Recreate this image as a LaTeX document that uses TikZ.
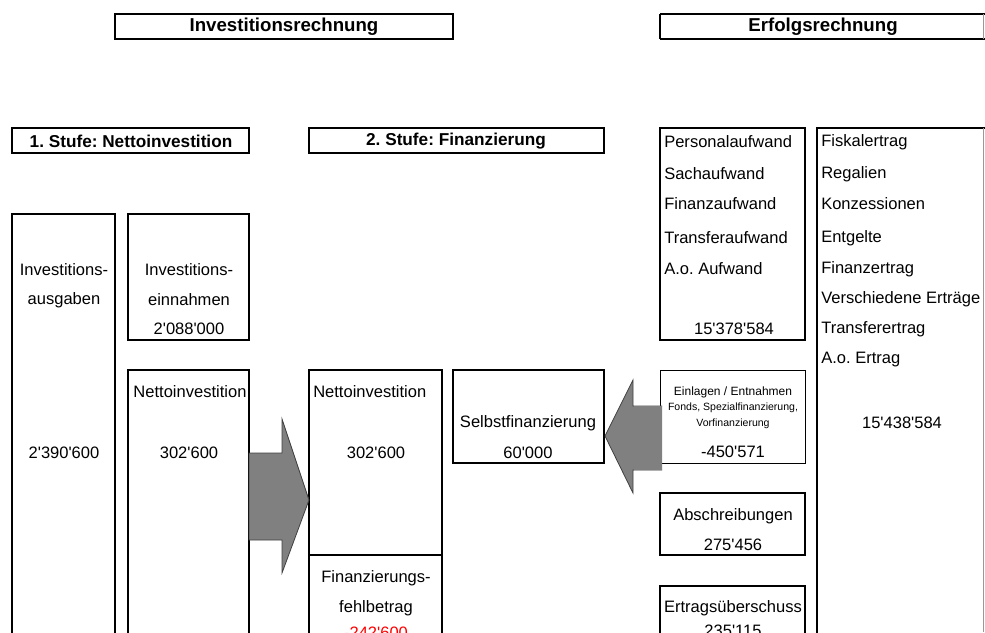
\documentclass[tikz,border=0pt]{standalone}
\usepackage{fontspec}
\setmainfont{Liberation Sans}[Ligatures=TeXOff]
\usepackage{xcolor}
\usetikzlibrary{positioning}
\frenchspacing

\tikzset{
  box/.style={draw=black,line width=1.5pt},
  thinbox/.style={draw=black,line width=0.75pt},
  txt/.style={inner sep=0pt,font=\fontsize{12.4}{14}\selectfont},
  ltxt/.style={txt,anchor=west},
  head/.style={inner sep=0pt,font=\fontsize{14}{16}\selectfont\bfseries},
  subhead/.style={inner sep=0pt,font=\fontsize{12.9}{15}\selectfont\bfseries},
  smalltxt/.style={inner sep=0pt,font=\fontsize{9}{10}\selectfont},
  tinytxt/.style={inner sep=0pt,font=\fontsize{7.9}{9}\selectfont},
  blockarrow/.style={fill=black!50,draw=black!75,line width=0.6pt,line join=miter}
}

\begin{document}
\begin{tikzpicture}[x=0.75pt,y=-0.75pt]
		\useasboundingbox (0,0) rectangle (985,632);
		\clip (0,0) rectangle (985,632);
		% headings
		\draw [box] (115,14) rectangle (453,39);
		\node [head] (invrech) at (284,27) {Investitionsrechnung};
		\draw [box] (660,14) -- (990,14) (660,39) -- (990,39) (660,14) -- (660,39);
		\draw [black!40,line width=0.6pt] (983,14) -- (983,39);
		\node [head] (erfrech) at (823,27) {Erfolgsrechnung};
		\draw [box] (12,128) rectangle (249,153);
		\node [subhead] (stufe1) at (131,141) {1. Stufe: Nettoinvestition};
		\draw [box] (309,128) rectangle (604,153);
		\node [subhead] (stufe2) at (456,141) {2. Stufe: Finanzierung};
		% stage 1
		\draw [box] (12,214) rectangle (115,650);
		\node [txt] (ausg1) at (64,270) {Investitions-};
		\node [txt] (ausg2) at (64,300) {ausgaben};
		\node [txt] (ausgval) at (64,453) {2'390'600};
		\draw [box] (128,214) rectangle (249,340);
		\node [txt] (einn1) at (189,270) {Investitions-};
		\node [txt] (einn2) at (189,300) {einnahmen};
		\node [txt] (einnval) at (189,329) {2'088'000};
		\draw [box] (128,370) rectangle (249,650);
		\node [txt] (netto1) at (190,392) {Nettoinvestition};
		\node [txt] (netto1val) at (189,453) {302'600};
		% stage 2
		\draw [box] (309,370) rectangle (442,650);
		\draw [box] (309,555) -- (442,555);
		\node [ltxt] (netto2) at (313,392) {Nettoinvestition};
		\node [txt] (netto2val) at (376,453) {302'600};
		\node [txt] (fehl1) at (376,578) {Finanzierungs-};
		\node [txt] (fehl2) at (376,608) {fehlbetrag};
		\node [txt,text=red] (fehlval) at (376,633) {-242'600};
		\draw [box] (453,370) rectangle (604,463);
		\node [txt] (selbst) at (528,423) {Selbstfinanzierung};
		\node [txt] (selbstval) at (528,453) {60'000};
		% expenses
		\draw [box] (660,128) rectangle (805,340);
		\node [ltxt] (aufw1) at (664,142) {Personalaufwand};
		\node [ltxt] (aufw2) at (664,174) {Sachaufwand};
		\node [ltxt] (aufw3) at (664,204) {Finanzaufwand};
		\node [ltxt] (aufw4) at (664,238) {Transferaufwand};
		\node [ltxt] (aufw5) at (664,269) {A.o. Aufwand};
		\node [txt] (aufwval) at (734,329) {15'378'584};
		% revenues
		\draw [box] (990,128) -- (817,128) -- (817,650);
		\draw [black!40,line width=0.6pt] (983,128) -- (983,632);
		\node [ltxt] (ertr1) at (821,142) {Fiskalertrag};
		\node [ltxt] (ertr2) at (821,174) {Regalien};
		\node [ltxt] (ertr3) at (821,204) {Konzessionen};
		\node [ltxt] (ertr4) at (821,238) {Entgelte};
		\node [ltxt] (ertr5) at (821,269) {Finanzertrag};
		\node [ltxt] (ertr6) at (821,299) {Verschiedene Erträge};
		\node [ltxt] (ertr7) at (821,329) {Transferertrag};
		\node [ltxt] (ertr8) at (821,360) {A.o. Ertrag};
		\node [txt] (ertrval) at (902,423) {15'438'584};
		% self-financing parts
		\draw [thinbox] (660,370) rectangle (805,463);
		\node [smalltxt] (einl1) at (733,392) {Einlagen / Entnahmen};
		\node [tinytxt] (einl2) at (733,408) {Fonds, Spezialfinanzierung,};
		\node [tinytxt] (einl3) at (733,424) {Vorfinanzierung};
		\node [txt] (einlval) at (733,452) {-450'571};
		\draw [box] (660,493) rectangle (805,555);
		\node [txt] (abschr) at (733,516) {Abschreibungen};
		\node [txt] (abschrval) at (733,545) {275'456};
		\draw [box] (660,586) rectangle (805,650);
		\node [txt] (ueber) at (733,608) {Ertragsüberschuss};
		\node [txt] (ueberval) at (733,631) {235'115};
		% block arrows
		\draw [blockarrow] (249,453) -- (282,453) -- (282,419) -- (309,500) -- (282,573) -- (282,540) -- (249,540) -- cycle;
		\draw [blockarrow] (662,406) -- (633,406) -- (633,380) -- (605,436) -- (633,493) -- (633,470) -- (662,470);
		\fill [black!50] (662,406) rectangle (633.5,470);
	\end{tikzpicture}
\end{document}
